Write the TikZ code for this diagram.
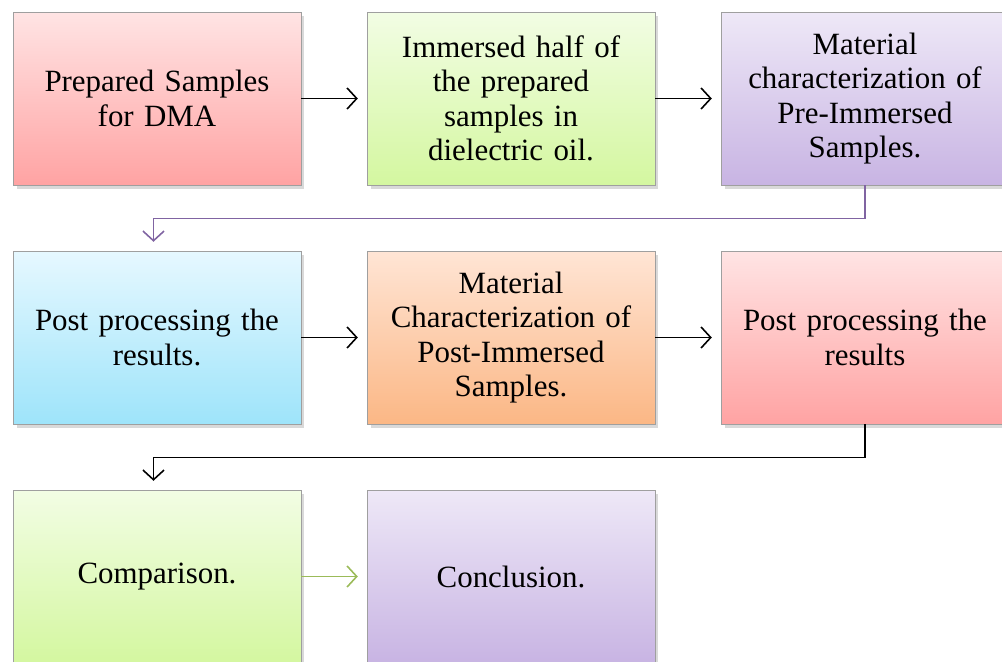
\documentclass[tikz,border=0pt]{standalone}
\usepackage{fontspec}
\setmainfont{Liberation Serif}
\usetikzlibrary{arrows.meta, shadows}
\definecolor{cpinktop}{HTML}{FFE4E4}
\definecolor{cpinkbot}{HTML}{FFA3A3}
\definecolor{cgreentop}{HTML}{F2FDE4}
\definecolor{cgreenbot}{HTML}{D4F7A0}
\definecolor{cpurptop}{HTML}{EEE8F7}
\definecolor{cpurpbot}{HTML}{C8B4E3}
\definecolor{ccyantop}{HTML}{E6F8FF}
\definecolor{ccyanbot}{HTML}{9EE4FA}
\definecolor{corangetop}{HTML}{FFE5D5}
\definecolor{corangebot}{HTML}{FBB785}
\definecolor{clink}{HTML}{8064A2}
\definecolor{cgreenlink}{HTML}{9BBB59}

\tikzset{
  stage/.style={draw=gray!75, line width=0.5pt, minimum width=5.76cm,
    minimum height=3.46cm, text width=5.1cm, align=center,
    font=\fontsize{17.6}{19.6}\selectfont,
    drop shadow={shadow xshift=2pt, shadow yshift=-2.5pt, opacity=0.3}},
  pinkbox/.style={stage, top color=cpinktop, bottom color=cpinkbot},
  greenbox/.style={stage, top color=cgreentop, bottom color=cgreenbot},
  purplebox/.style={stage, top color=cpurptop, bottom color=cpurpbot},
  cyanbox/.style={stage, top color=ccyantop, bottom color=ccyanbot},
  orangebox/.style={stage, top color=corangetop, bottom color=corangebot},
  flow/.style={line width=0.9pt, -{Straight Barb[length=5.5pt, width=12pt]},
    shorten >=5pt},
}

\begin{document}
\begin{tikzpicture}[x=0.02cm, y=-0.02cm]
\useasboundingbox (0,0) rectangle (1002,662);

% Row 1
\node[pinkbox] (prep) at (157,98.5) {Prepared Samples\\for DMA};
\node[greenbox] (immerse) at (511,98.5)
  {Immersed half of\\the prepared\\samples in\\dielectric oil.};
\node[purplebox] (precharac) at (865,98.5)
  {Material\\characterization of\\Pre-Immersed\\Samples.};

% Row 2
\node[cyanbox] (postproc) at (157,337.5) {Post processing the\\results.};
\node[orangebox] (postcharac) at (511,337.5)
  {Material\\Characterization of\\Post-Immersed\\Samples.};
\node[pinkbox] (postresult) at (865,337.5) {Post processing the\\results};

% Row 3
\node[greenbox] (compare) at (157,576.5) {Comparison.};
\node[purplebox] (conclude) at (511,576.5) {Conclusion.};

% Connectors
\draw[flow] (prep) -- (immerse);
\draw[flow] (immerse) -- (precharac);
\draw[flow, clink] (precharac.south) -- ++(0,33) -| ([xshift=-2]postproc.north);
\draw[flow] (postproc) -- (postcharac);
\draw[flow] (postcharac) -- (postresult);
\draw[flow] (postresult.south) -- ++(0,33) -| ([xshift=-2]compare.north);
\draw[flow, cgreenlink] (compare) -- (conclude);

\end{tikzpicture}
\end{document}
